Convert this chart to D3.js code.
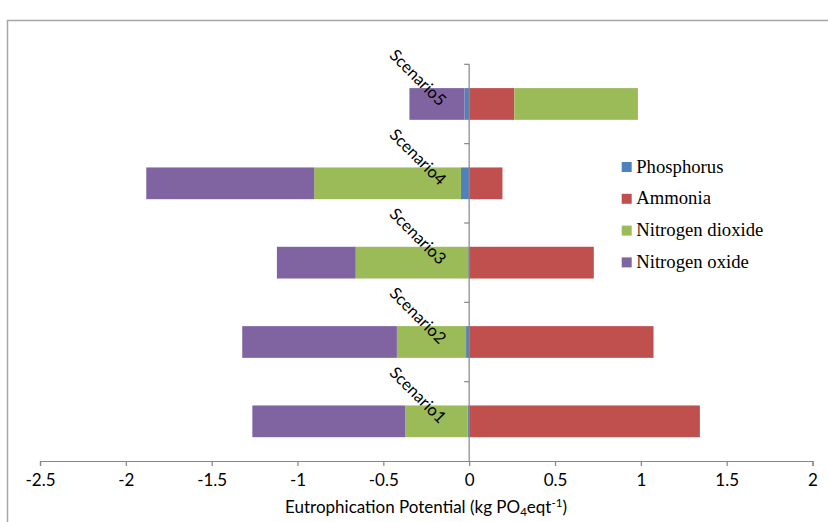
<!DOCTYPE html>
<html>
<head>
<meta charset="utf-8">
<script src="https://cdn.jsdelivr.net/npm/d3@7"></script>
<style>
  html, body { margin: 0; padding: 0; background: #fff; }
  svg { display: block; }
</style>
</head>
<body>
<svg id="chart" width="828" height="522"></svg>
<script>
// Eutrophication potential by scenario, split by contributing substance
const categories = ["Scenario1", "Scenario2", "Scenario3", "Scenario4", "Scenario5"];
const seriesNames = ["Phosphorus", "Ammonia", "Nitrogen dioxide", "Nitrogen oxide"];
const phosphorus      = [-0.008, -0.018, -0.005, -0.048, -0.027];
const ammonia         = [1.344, 1.074, 0.726, 0.194, 0.263];
const nitrogenDioxide = [-0.364, -0.403, -0.656, -0.855, 0.72];
const nitrogenOxide   = [-0.891, -0.901, -0.459, -0.978, -0.321];
const xTicks = [-2.5, -2, -1.5, -1, -0.5, 0, 0.5, 1, 1.5, 2];
const colors = ["#4F81BD", "#C0504D", "#9BBB59", "#8064A2"];

const seriesValues = [phosphorus, ammonia, nitrogenDioxide, nitrogenOxide];
const rows = categories.map((c, i) => {
  const r = { category: c };
  seriesNames.forEach((s, k) => { r[s] = seriesValues[k][i]; });
  return r;
});

const svg = d3.select("#chart");
const axisColor = "#868686";
const sansFont = "Lato, 'Liberation Sans', sans-serif";
const serifFont = "'Liberation Serif', 'Times New Roman', serif";

// Chart frame
svg.append("rect")
  .attr("x", 7.5).attr("y", 20.5)
  .attr("width", 840).attr("height", 520)
  .attr("fill", "none").attr("stroke", "#a6a6a6").attr("stroke-width", 1.5);

const x = d3.scaleLinear().domain([-2.5, 2]).range([40, 812.5]);
const y = d3.scaleBand()
  .domain(categories.slice().reverse())
  .range([64.3, 461])
  .paddingInner(0.6).paddingOuter(0.3);

const stack = d3.stack().keys(seriesNames).offset(d3.stackOffsetDiverging);
const layers = stack(rows);

// Bars
const g = svg.append("g");
g.selectAll("g.layer")
  .data(layers)
  .join("g")
  .attr("class", "layer")
  .attr("fill", (d, i) => colors[i])
  .selectAll("rect")
  .data(d => d)
  .join("rect")
  .attr("x", d => x(Math.min(d[0], d[1])))
  .attr("width", d => Math.abs(x(d[1]) - x(d[0])))
  .attr("y", d => y(d.data.category))
  .attr("height", y.bandwidth());

// Horizontal value axis
const xAxis = d3.axisBottom(x)
  .tickValues(xTicks)
  .tickSize(5)
  .tickSizeOuter(5)
  .tickFormat(d => d3.format("")(d).replace("−", "-"));
const xg = svg.append("g")
  .attr("transform", "translate(0,461)")
  .call(xAxis);
xg.select(".domain").attr("stroke", axisColor).attr("stroke-width", 1.2);
xg.selectAll(".tick line").attr("stroke", axisColor).attr("stroke-width", 1.2);
xg.selectAll(".tick text")
  .attr("y", 24.5)
  .attr("dy", 0)
  .attr("fill", "#000")
  .attr("font-family", sansFont)
  .attr("font-size", 17);

// Vertical category axis crossing at zero
const bandStep = y.step();
const boundaries = d3.range(categories.length).map(i => 64.3 + i * bandStep);
const yg = svg.append("g");
yg.append("line")
  .attr("x1", x(0)).attr("x2", x(0))
  .attr("y1", 64.3).attr("y2", 461)
  .attr("stroke", axisColor).attr("stroke-width", 1.2);
yg.selectAll("line.tick")
  .data(boundaries)
  .join("line")
  .attr("class", "tick")
  .attr("x1", x(0) - 5).attr("x2", x(0))
  .attr("y1", d => d).attr("y2", d => d)
  .attr("stroke", axisColor).attr("stroke-width", 1.2);

// Rotated category labels
yg.selectAll("text")
  .data(categories)
  .join("text")
  .attr("transform", d => `translate(${x(0) - 30},${y(d) + y.bandwidth() / 2 + 3}) rotate(45)`)
  .attr("text-anchor", "end")
  .attr("font-family", sansFont)
  .attr("font-size", 16.5)
  .attr("fill", "#000")
  .text(d => d);

// Axis title with subscript and superscript
const title = svg.append("text")
  .attr("x", 426).attr("y", 513)
  .attr("text-anchor", "middle")
  .attr("font-family", sansFont)
  .attr("font-size", 17)
  .attr("fill", "#000");
title.append("tspan").text("Eutrophication Potential (kg PO");
title.append("tspan").attr("font-size", 11.5).attr("dy", 3).text("4");
title.append("tspan").attr("dy", -3).text("eqt");
title.append("tspan").attr("font-size", 11.5).attr("dy", -6).text("-1");
title.append("tspan").attr("dy", 6).text(")");

// Legend
const legend = svg.append("g").attr("transform", "translate(621.7,172.5)");
const item = legend.selectAll("g")
  .data(seriesNames)
  .join("g")
  .attr("transform", (d, i) => `translate(0,${i * 31.8})`);
item.append("rect")
  .attr("x", 0).attr("y", -10.5)
  .attr("width", 10).attr("height", 10)
  .attr("fill", (d, i) => colors[i]);
item.append("text")
  .attr("x", 14.5).attr("y", 0)
  .attr("font-family", serifFont)
  .attr("font-size", 18.7)
  .attr("fill", "#000")
  .text(d => d);
</script>
</body>
</html>
